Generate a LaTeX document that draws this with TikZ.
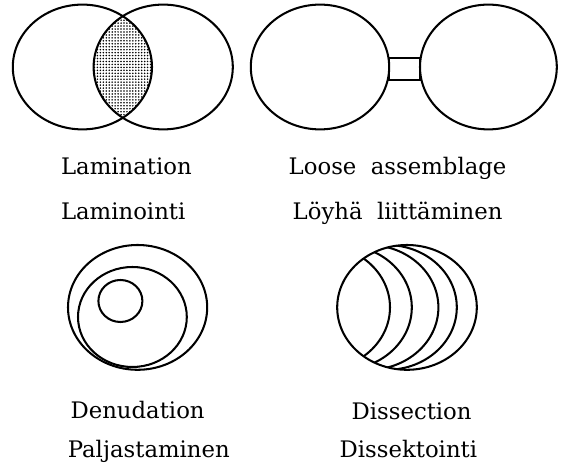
\documentclass[tikz,border=0pt]{standalone}
\usepackage{fontspec}
\usetikzlibrary{patterns.meta}
\setmainfont{DejaVu Serif}

\begin{document}
\begin{tikzpicture}[
    ring/.style={line width=1.45pt},
    lbl/.style={anchor=base, inner sep=0pt, font=\fontsize{16.2}{18}\selectfont}
  ]
            \useasboundingbox (0,0) rectangle (14.1,11.575);

            % Lamination
            \begin{scope}
              \clip (2.06,9.9) ellipse (1.74 and 1.56);
              \fill[pattern={Dots[distance=2.1pt, radius=0.62pt]}] (4.08,9.9) ellipse (1.74 and 1.56);
            \end{scope}
            \draw[ring] (2.06,9.9) ellipse (1.74 and 1.56);
            \draw[ring] (4.08,9.9) ellipse (1.74 and 1.56);

            % Loose assemblage
            \draw[ring] (8.0,9.9) ellipse (1.73 and 1.56);
            \draw[ring] (12.21,9.9) ellipse (1.71 and 1.56);
            \draw[ring] (9.72,9.575) rectangle (10.5,10.125);

            % Denudation
            \draw[ring] (3.44,3.89) ellipse (1.74 and 1.56);
            \draw[ring] (3.31,3.65) ellipse (1.36 and 1.25);
            \draw[ring] (3.01,4.05) ellipse (0.55 and 0.525);

            % Dissection
            \begin{scope}
              \clip (10.175,3.89) ellipse (1.745 and 1.56);
              \foreach \d in {2.17,1.625,0.96,0.5}
                \draw[ring] (10.175-\d,3.89) ellipse (1.745 and 1.56);
            \end{scope}
            \draw[ring] (10.175,3.89) ellipse (1.745 and 1.56);

            % labels
            \node[lbl] (lamEn) at (3.16,7.2) {Lamination};
            \node[lbl] (lamFi) at (3.08,6.075) {Laminointi};
            \node[lbl] (looseEn) at (9.94,7.2) {Loose\ \ assemblage};
            \node[lbl] (looseFi) at (9.94,6.075) {Löyhä\ \ liittäminen};
            \node[lbl] (denEn) at (3.44,1.1) {Denudation};
            \node[lbl] (denFi) at (3.72,0.125) {Paljastaminen};
            \node[lbl] (disEn) at (10.29,1.075) {Dissection};
            \node[lbl] (disFi) at (10.21,0.125) {Dissektointi};
        \end{tikzpicture}
\end{document}
